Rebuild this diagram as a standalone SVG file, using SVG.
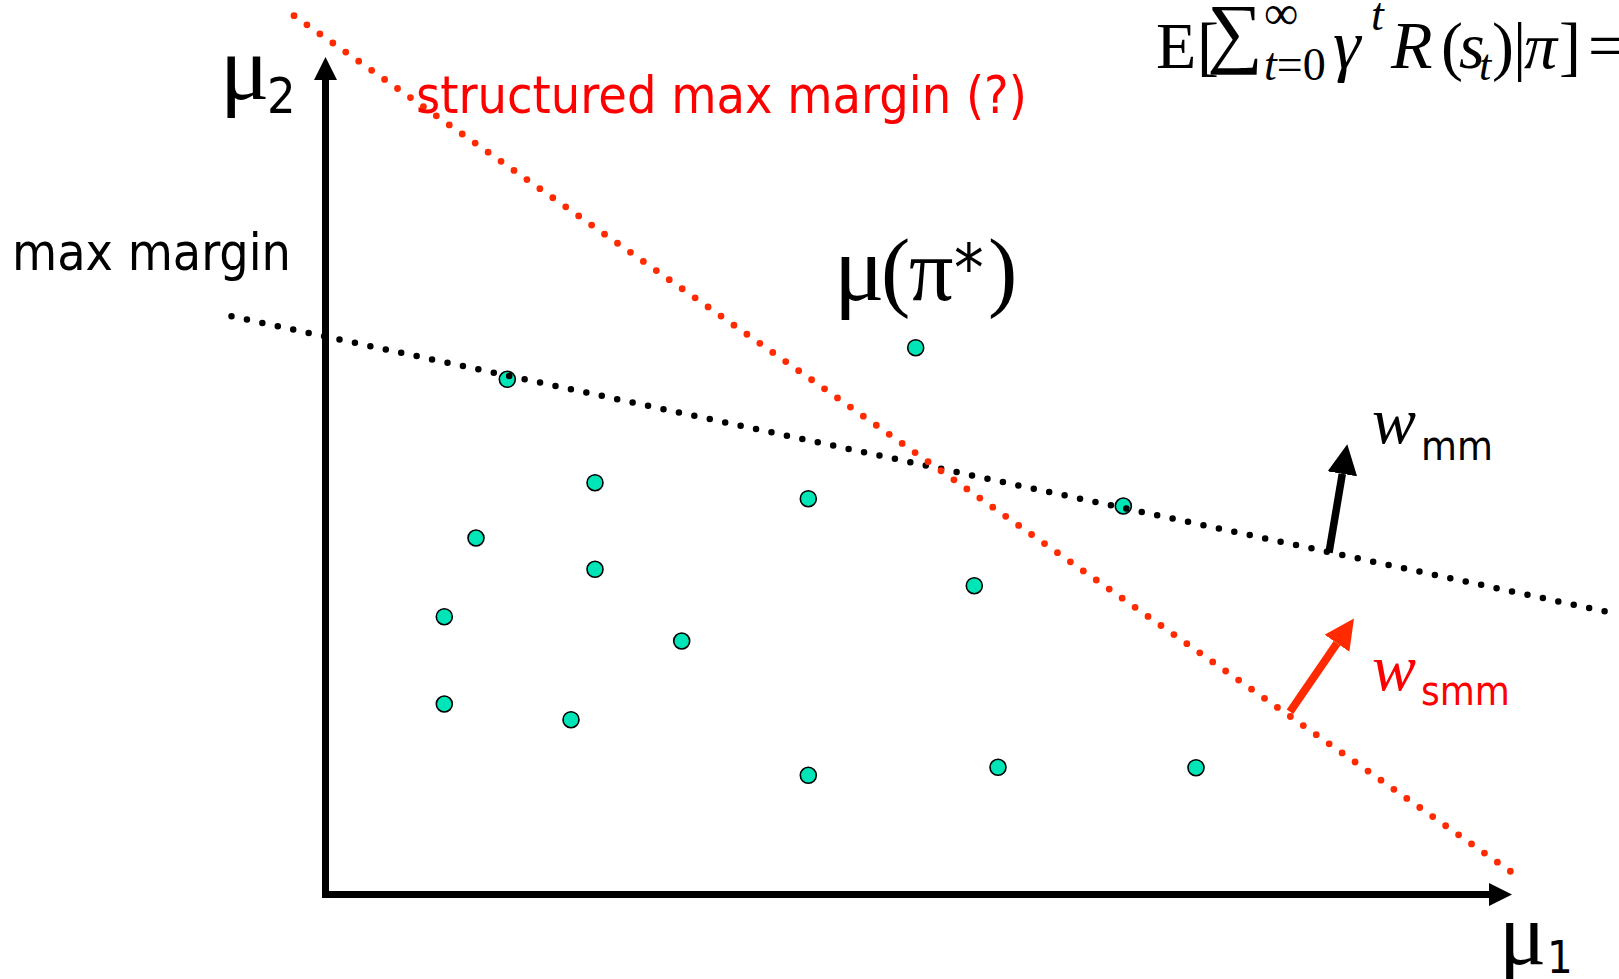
<svg xmlns="http://www.w3.org/2000/svg" width="1619" height="979" viewBox="0 0 1619 979">
<style>
.pt{fill:#00e5b8;stroke:#000;stroke-width:1.6}
.sans{font-family:'DejaVu Sans Condensed','DejaVu Sans',sans-serif;font-stretch:condensed}
.ser{font-family:'Liberation Serif','Times New Roman',serif}
.it{font-style:italic}
.red{fill:#ff0000}
.blk{fill:#000}
.dotb{fill:none;stroke:#000;stroke-width:6.5;stroke-linecap:round;stroke-dasharray:0 15.78}
.dotr{fill:none;stroke:#ff2a00;stroke-width:6.8;stroke-linecap:round;stroke-dasharray:0 15.82}
</style>
<defs>
<marker id="axhead" markerUnits="userSpaceOnUse" markerWidth="23" markerHeight="23" refX="0" refY="11.5" orient="auto"><path d="M0,0 L23,11.5 L0,23 z" fill="#000"/></marker>
<marker id="wb" markerUnits="userSpaceOnUse" markerWidth="30" markerHeight="30" refX="0" refY="15" orient="auto"><path d="M0,0 L30,15 L0,30 z" fill="#000"/></marker>
<marker id="wr" markerUnits="userSpaceOnUse" markerWidth="30" markerHeight="30" refX="0" refY="15" orient="auto"><path d="M0,0 L30,15 L0,30 z" fill="#ff2a00"/></marker>
</defs>

<g id="axes">
<line x1="325.5" y1="898" x2="325.5" y2="80" stroke="#000" stroke-width="7" marker-end="url(#axhead)"/>
<line x1="322" y1="894.5" x2="1489" y2="894.5" stroke="#000" stroke-width="7" marker-end="url(#axhead)"/>
</g>

<g id="points">
<circle class="pt" cx="915.7" cy="347.7" r="8"/>
<circle class="pt" cx="507.3" cy="379.3" r="8"/>
<circle class="pt" cx="595" cy="482.7" r="8"/>
<circle class="pt" cx="808.3" cy="498.7" r="8"/>
<circle class="pt" cx="1123.3" cy="506" r="8"/>
<circle class="pt" cx="476" cy="538" r="8"/>
<circle class="pt" cx="595" cy="569.3" r="8"/>
<circle class="pt" cx="974.3" cy="585.7" r="8"/>
<circle class="pt" cx="444.3" cy="616.7" r="8"/>
<circle class="pt" cx="681.7" cy="641" r="8"/>
<circle class="pt" cx="444.3" cy="704" r="8"/>
<circle class="pt" cx="571" cy="719.7" r="8"/>
<circle class="pt" cx="808.3" cy="775.3" r="8"/>
<circle class="pt" cx="998" cy="767.3" r="8"/>
<circle class="pt" cx="1196" cy="767.7" r="8"/>
</g>

<g id="connectors">
<line class="dotb" x1="231.5" y1="316.3" x2="1605.7" y2="611.6"/>
<line class="dotr" x1="294" y1="15.7" x2="1511" y2="871.7"/>
<line x1="1329" y1="552.7" x2="1342.3" y2="473.8" stroke="#000" stroke-width="7.5" marker-end="url(#wb)"/>
<line x1="1290" y1="711.7" x2="1337" y2="643.3" stroke="#ff2a00" stroke-width="8" marker-end="url(#wr)"/>
</g>

<g id="labels">
<g id="mu2">
<text class="ser blk" x="220" y="99" font-size="92">μ</text>
<text class="sans blk" x="267" y="113" font-size="50">2</text>
</g>
<g id="mu1">
<text class="ser blk" x="1499" y="964" font-size="88">μ</text>
<text class="sans blk" x="1547" y="973" font-size="45">1</text>
</g>
<text id="smm" class="sans red" x="416" y="113" font-size="51.7">structured max margin (?)</text>
<text id="mm" class="sans blk" x="12" y="270" font-size="51.5">max margin</text>
<text id="mupi" class="ser blk" font-size="88"><tspan x="834" y="300" font-size="94">μ</tspan><tspan x="881" y="300">(</tspan><tspan x="909" y="300">π</tspan><tspan class="sans" x="954" y="291" font-size="66">*</tspan><tspan x="988" y="300">)</tspan></text>
<text id="wmm" class="blk"><tspan class="ser it" x="1372" y="443" font-size="66">w</tspan><tspan class="sans" x="1421" y="460" font-size="41">mm</tspan></text>
<text id="wsmm" class="red"><tspan class="ser it" x="1372" y="690" font-size="66">w</tspan><tspan class="sans" x="1421" y="705" font-size="40">smm</tspan></text>
<text id="formula" class="ser blk" font-size="66"><tspan x="1156" y="68">E</tspan><tspan x="1197" y="68">[</tspan><tspan x="1207" y="58" font-size="78">∑</tspan><tspan x="1264" y="29" font-size="48">∞</tspan><tspan class="it" x="1264" y="80" font-size="46">t</tspan><tspan font-size="46">=0</tspan><tspan class="it" x="1333" y="68" font-size="70">γ</tspan><tspan class="it" x="1371" y="30" font-size="46">t</tspan><tspan class="it" x="1391" y="68" font-size="68">R</tspan><tspan x="1441" y="68">(</tspan><tspan class="it" x="1459" y="68">s</tspan><tspan class="it" x="1479" y="80" font-size="44">t</tspan><tspan x="1492" y="68">)</tspan><tspan x="1513" y="68">|</tspan><tspan class="it" x="1524" y="68">π</tspan><tspan x="1559" y="68">]</tspan><tspan x="1588" y="68">=</tspan></text>
</g>
</svg>
